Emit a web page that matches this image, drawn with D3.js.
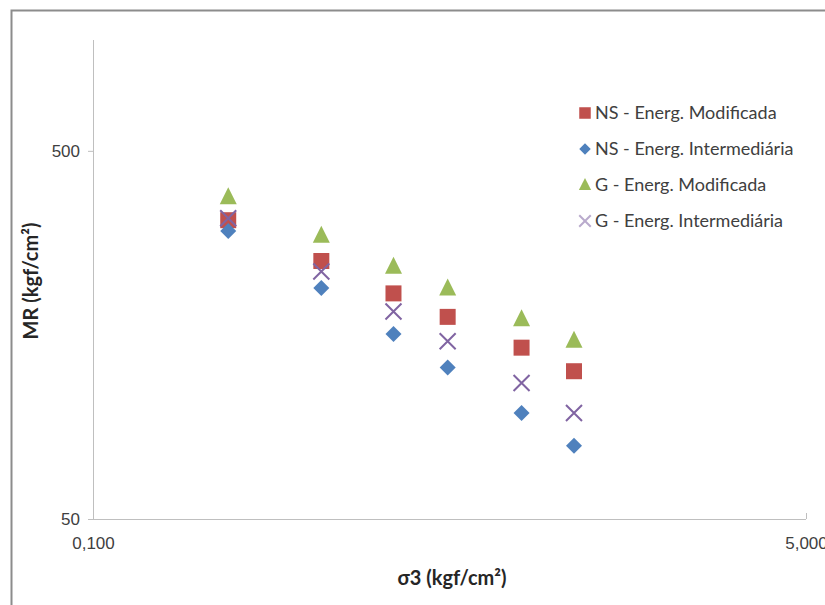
<!DOCTYPE html>
<html>
<head>
<meta charset="utf-8">
<script src="https://cdn.jsdelivr.net/npm/d3@7"></script>
<style>
  body { margin: 0; background: #fff; }
  svg { font-family: Lato, "Open Sans", sans-serif; }
</style>
</head>
<body>
<svg width="825" height="605"></svg>
<script>
// sigma3 values (kgf/cm2)
var sigma3 = [0.21, 0.35, 0.52, 0.70, 1.05, 1.40];
// MR values per series
var nsMod = [324, 251, 205, 177, 146, 126];
var nsInt = [303, 212, 159, 129, 97, 79];
var gMod = [375, 295, 243, 212, 175, 153];
var gInt = [328, 235, 183, 152, 117, 97];
var seriesNames = ["NS - Energ. Modificada", "NS - Energ. Intermediária", "G - Energ. Modificada", "G - Energ. Intermediária"];
var xTicks = [0.1, 5];
var yTicks = [50, 500];

var svg = d3.select("svg");
var margin = {top: 40, left: 93, right: 19, bottom: 86};
var width = 825 - margin.left - margin.right,
    height = 605 - margin.top - margin.bottom;

// chart border
svg.append("rect")
    .attr("x", 11.5).attr("y", 10.5)
    .attr("width", 830).attr("height", 610)
    .attr("fill", "none").attr("stroke", "#8c8c8c").attr("stroke-width", 2);

var xScale = d3.scaleLog().domain([0.1, 5]).range([0, width]);
var yScale = d3.scaleLog().domain([50, 1000]).range([height, 0]);

var g = svg.append("g").attr("transform", "translate(" + margin.left + "," + margin.top + ")");

// y axis
var gY = g.append("g").call(d3.axisLeft(yScale).tickValues(yTicks).tickSize(5).tickFormat(d3.format("d")));
gY.select(".domain").attr("stroke", "#bfbfbf").attr("d", "M0.5," + height + "V0");
gY.selectAll(".tick line").attr("stroke", "#bfbfbf");
gY.selectAll(".tick text").attr("font-size", 17).attr("fill", "#404040").attr("x", -13);

// x axis
var gX = g.append("g").attr("transform", "translate(0," + height + ")")
    .call(d3.axisBottom(xScale).tickValues(xTicks).tickSize(-6)
        .tickFormat(function (d) { return d3.format(".3f")(d).replace(".", ","); }));
gX.select(".domain").attr("stroke", "#bfbfbf").attr("d", "M0," + 0.5 + "H" + width);
gX.selectAll(".tick line").attr("stroke", "#bfbfbf");
gX.selectAll(".tick text").attr("font-size", 17).attr("fill", "#404040").attr("y", 18);

// axis titles
svg.append("text").attr("x", 452).attr("y", 585).attr("text-anchor", "middle")
    .attr("font-size", 20).attr("font-weight", "bold").attr("fill", "#262626")
    .text("σ3 (kgf/cm²)");
svg.append("text").attr("transform", "translate(38,281) rotate(-90)").attr("text-anchor", "middle")
    .attr("font-size", 20).attr("font-weight", "bold").attr("fill", "#262626")
    .text("MR (kgf/cm²)");

// markers
var series = [
    {values: nsMod, shape: "square", size: 16, color: "#c0504d"},
    {values: nsInt, shape: "diamond", size: 16, color: "#4f81bd"},
    {values: gMod, shape: "triangle", size: 17, color: "#9bbb59"},
    {values: gInt, shape: "x", size: 16, color: "#8064a2"}
];

function markerPath(shape, s) {
    var h = s / 2;
    if (shape === "square") return "M" + (-h) + "," + (-h) + "H" + h + "V" + h + "H" + (-h) + "Z";
    if (shape === "diamond") return "M0," + (-h) + "L" + h + ",0L0," + h + "L" + (-h) + ",0Z";
    if (shape === "triangle") return "M0," + (-h - 1) + "L" + h + "," + (h - 1) + "L" + (-h) + "," + (h - 1) + "Z";
    return "M" + (-h) + "," + (-h) + "L" + h + "," + h + "M" + (-h) + "," + h + "L" + h + "," + (-h);
}

function drawMarker(sel, s, scale) {
    var p = sel.append("path").attr("d", markerPath(s.shape, s.size * scale));
    if (s.shape === "x") {
        p.attr("stroke", s.color).attr("stroke-width", 2).attr("fill", "none")
            .attr("opacity", scale < 1 ? 0.55 : 1);
    } else {
        p.attr("fill", s.color);
    }
}

series.forEach(function (s) {
    g.append("g").selectAll("g")
        .data(s.values)
        .enter()
        .append("g")
        .attr("transform", function (d, i) { return "translate(" + xScale(sigma3[i]) + "," + yScale(d) + ")"; })
        .each(function () { drawMarker(d3.select(this), s, 1); });
});

// legend
var legend = svg.append("g").attr("transform", "translate(585,113)");
series.forEach(function (s, i) {
    var row = legend.append("g").attr("transform", "translate(0," + (i * 36) + ")");
    drawMarker(row.append("g"), s, 0.72);
    row.append("text").attr("x", 10).attr("y", 6).attr("font-size", 18).attr("fill", "#404040")
        .text(seriesNames[i]);
});
</script>
</body>
</html>
